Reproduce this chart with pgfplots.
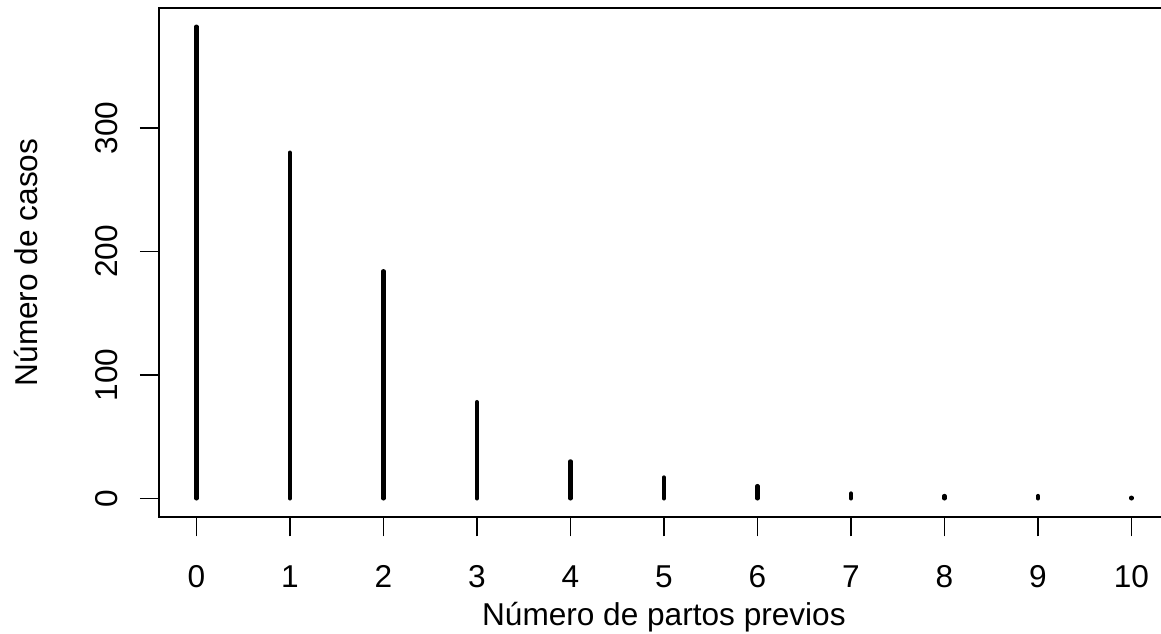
\documentclass[border=0pt]{standalone}
\usepackage{fontspec}
\setmainfont{Liberation Sans}
\usepackage{pgfplots}
\pgfplotsset{compat=1.18}
\begin{document}
\begin{tikzpicture}
\begin{axis}[
  x=46.75pt, y=0.6175pt,
  xmin=-0.4, xmax=10.4, ymin=-15.3, ymax=397.3,
  axis line style={line width=1pt},
  xtick={0,1,2,3,4,5,6,7,8,9,10},
  ytick={0,100,200,300},
  xtick pos=left, ytick pos=left,
  tick align=outside,
  major tick length=9.5pt,
  every tick/.style={black, line width=0.75pt},
  /pgf/number format/assume math mode=true,
  ticklabel style={font=\fontsize{15.8}{18}\selectfont, inner sep=0pt},
  xticklabel style={anchor=north},
  yticklabel style={rotate=90, anchor=south},
  xticklabel shift=14.5pt,
  yticklabel shift=11pt,
  label style={font=\fontsize{15.8}{18}\selectfont, inner sep=0pt},
  xlabel={Número de partos previos},
  ylabel={Número de casos},
  xlabel style={at={(axis description cs:0.5,-0.2133)}, anchor=base},
  ylabel style={at={(axis description cs:-0.1208,0.5)}, anchor=base, rotate=0},
  clip=false,
]
\addplot[ycomb, black, line width=2.1pt, line cap=round, mark=none] coordinates {
(0,382) (1,280) (2,184) (3,78) (4,30) (5,17) (6,10) (7,4) (8,2) (9,2) (10,0.6)
};
\end{axis}
\pgfresetboundingbox
\useasboundingbox ([xshift=-79.5pt, yshift=-57.85pt]current axis.south west) rectangle ++(580.5pt,316.5pt);
\end{tikzpicture}
\end{document}
